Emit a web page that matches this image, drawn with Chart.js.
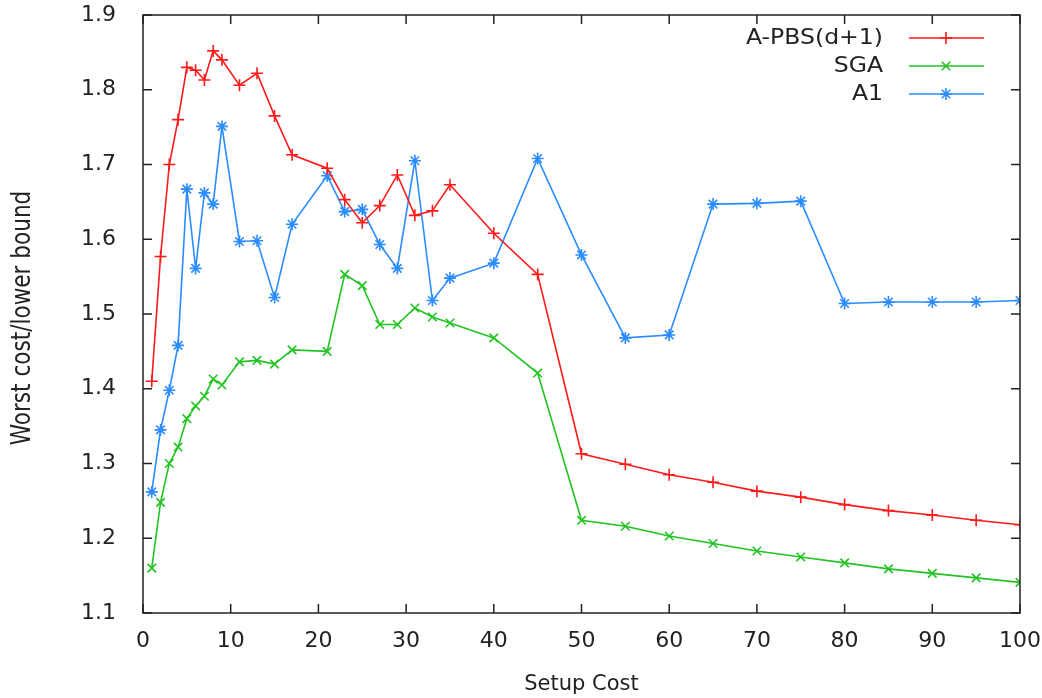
<!DOCTYPE html>
<html>
<head>
<meta charset="utf-8">
<script src="https://cdn.jsdelivr.net/npm/chart.js@4"></script>
<style>
  html, body { margin: 0; padding: 0; background: #fff; }
  canvas { display: block; }
</style>
</head>
<body>
<canvas id="myChart" width="1042" height="698"></canvas>
<script>
// setup cost values on the x axis
const setupCost = [1, 2, 3, 4, 5, 6, 7, 8, 9, 11, 13, 15, 17, 21, 23, 25, 27, 29, 31, 33, 35, 40, 45, 50, 55, 60, 65, 70, 75, 80, 85, 90, 95, 100];

const apbs = [1.41, 1.577, 1.70, 1.76, 1.83, 1.826, 1.813, 1.852, 1.84, 1.806, 1.822, 1.765, 1.713, 1.695, 1.653, 1.622, 1.645, 1.686, 1.632, 1.638, 1.673, 1.608, 1.553, 1.313, 1.299, 1.285, 1.275, 1.263, 1.255, 1.245, 1.237, 1.231, 1.224, 1.218];
const sga = [1.16, 1.248, 1.30, 1.322, 1.36, 1.377, 1.39, 1.413, 1.405, 1.436, 1.438, 1.433, 1.452, 1.450, 1.553, 1.538, 1.486, 1.486, 1.508, 1.496, 1.488, 1.468, 1.421, 1.224, 1.216, 1.203, 1.193, 1.183, 1.175, 1.167, 1.159, 1.153, 1.147, 1.141];
const a1 = [1.262, 1.345, 1.398, 1.458, 1.667, 1.561, 1.662, 1.647, 1.751, 1.597, 1.598, 1.522, 1.620, 1.685, 1.637, 1.640, 1.593, 1.561, 1.705, 1.518, 1.548, 1.568, 1.708, 1.579, 1.468, 1.472, 1.647, 1.648, 1.651, 1.514, 1.516, 1.516, 1.516, 1.518];

const xTicks = [0, 10, 20, 30, 40, 50, 60, 70, 80, 90, 100];
const yTicks = [1.1, 1.2, 1.3, 1.4, 1.5, 1.6, 1.7, 1.8, 1.9];

const toPoints = ys => ys.map((y, i) => ({ x: setupCost[i], y: y }));

function series(label, ys, color, style) {
    return {
        label: label,
        data: toPoints(ys),
        borderColor: color,
        backgroundColor: color,
        borderWidth: 1.6,
        pointStyle: style,
        pointRadius: 6,
        pointBorderWidth: 1.6,
        pointBorderColor: color,
        pointBackgroundColor: color,
        tension: 0,
        fill: false
    };
}

// gnuplot-like frame with inward ticks and a legend inside the top right
const framePlugin = {
    id: 'frame',
    afterDatasetsDraw(chart) {
        const { ctx, chartArea: a, scales } = chart;
        ctx.save();
        ctx.strokeStyle = '#222';
        ctx.lineWidth = 1.5;
        ctx.strokeRect(a.left, a.top, a.right - a.left, a.bottom - a.top);
        ctx.beginPath();
        xTicks.forEach(v => {
            const px = scales.x.getPixelForValue(v);
            ctx.moveTo(px, a.bottom); ctx.lineTo(px, a.bottom - 9);
            ctx.moveTo(px, a.top); ctx.lineTo(px, a.top + 9);
        });
        yTicks.forEach(v => {
            const py = scales.y.getPixelForValue(v);
            ctx.moveTo(a.left, py); ctx.lineTo(a.left + 9, py);
            ctx.moveTo(a.right, py); ctx.lineTo(a.right - 9, py);
        });
        ctx.stroke();

        // legend
        ctx.textAlign = 'right';
        ctx.textBaseline = 'middle';
        chart.data.datasets.forEach((ds, i) => {
            const y = 38 + i * 28;
            ctx.save();
            ctx.translate(883, y);
            ctx.scale(1.07, 1);
            ctx.font = '22px "DejaVu Sans"';
            ctx.fillStyle = '#222';
            ctx.fillText(ds.label, 0, 0);
            ctx.restore();
            ctx.strokeStyle = ds.borderColor;
            ctx.lineWidth = 1.6;
            ctx.beginPath();
            ctx.moveTo(909, y); ctx.lineTo(984, y);
            ctx.stroke();
            Chart.helpers.drawPoint(ctx, { pointStyle: ds.pointStyle, radius: 6, borderWidth: 1.6 }, 946, y);
        });

        // y axis title, condensed like the original
        ctx.save();
        ctx.translate(23, (a.top + a.bottom) / 2 + 4);
        ctx.rotate(-Math.PI / 2);
        ctx.scale(0.83, 1);
        ctx.font = '26px "DejaVu Sans"';
        ctx.textAlign = 'center';
        ctx.textBaseline = 'middle';
        ctx.fillStyle = '#222';
        ctx.fillText('Worst cost/lower bound', 0, 0);
        ctx.restore();
        ctx.restore();
    }
};

const ctx = document.getElementById('myChart').getContext('2d');

const chart = new Chart(ctx, {
    type: 'line',
    data: {
        datasets: [
            series('A-PBS(d+1)', apbs, '#ff1a1a', 'cross'),
            series('SGA', sga, '#22c322', 'crossRot'),
            series('A1', a1, '#2a8cff', 'star')
        ]
    },
    options: {
        responsive: false,
        animation: false,
        devicePixelRatio: 1,
        layout: { padding: { top: 15, right: 22, left: 0, bottom: 0 } },
        plugins: {
            legend: { display: false },
            tooltip: { enabled: false }
        },
        scales: {
            x: {
                type: 'linear',
                min: 0,
                max: 100,
                afterFit: s => { s.height = 85; s.paddingLeft = 0; s.paddingRight = 0; },
                afterBuildTicks: s => { s.ticks = xTicks.map(v => ({ value: v })); },
                grid: { display: false, drawTicks: false },
                border: { display: false },
                ticks: {
                    color: '#222',
                    font: { family: 'DejaVu Sans', size: 22 },
                    padding: 15,
                    maxRotation: 0
                },
                title: {
                    display: true,
                    text: 'Setup Cost',
                    color: '#222',
                    font: { family: 'DejaVu Sans', size: 21 },
                    padding: { top: 4, bottom: 1 }
                }
            },
            y: {
                type: 'linear',
                min: 1.1,
                max: 1.9,
                afterFit: s => { s.width = 143; s.paddingTop = 0; s.paddingBottom = 0; },
                afterBuildTicks: s => { s.ticks = yTicks.map(v => ({ value: v })); },
                grid: { display: false, drawTicks: false },
                border: { display: false },
                ticks: {
                    color: '#222',
                    font: { family: 'DejaVu Sans', size: 22 },
                    padding: 27,
                    callback: v => v.toFixed(1)
                }
            }
        }
    },
    plugins: [framePlugin]
});
</script>
</body>
</html>
